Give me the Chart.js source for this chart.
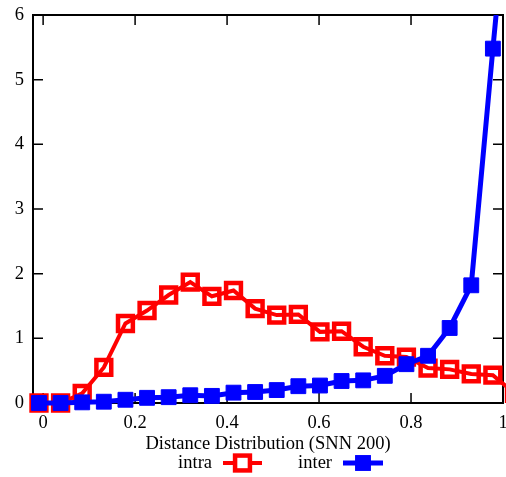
<!DOCTYPE html>
<html>
<head>
<meta charset="utf-8">
<script src="https://cdn.jsdelivr.net/npm/chart.js@4/dist/chart.umd.min.js"></script>
<style>
  html, body { margin: 0; padding: 0; background: #fff; width: 506px; height: 477px; overflow: hidden; }
  canvas { display: block; }
</style>
</head>
<body>
<canvas id="chart" width="530" height="477"></canvas>
<script>
// Bin centres of the distance histogram
const binCenters = [-0.009, 0.038, 0.085, 0.132, 0.179, 0.226, 0.273, 0.320, 0.367, 0.414, 0.461, 0.508,
                    0.555, 0.602, 0.649, 0.696, 0.743, 0.790, 0.837, 0.884, 0.931, 0.978, 1.025];
// Density of intra-cluster distances
const intra = [0.00, 0.00, 0.15, 0.55, 1.23, 1.43, 1.67, 1.87, 1.65, 1.74, 1.46, 1.36,
               1.37, 1.10, 1.11, 0.87, 0.73, 0.71, 0.54, 0.52, 0.45, 0.43, 0.15];
// Density of inter-cluster distances
const inter = [0.00, 0.00, 0.01, 0.02, 0.05, 0.08, 0.09, 0.12, 0.11, 0.16, 0.17, 0.20,
               0.26, 0.27, 0.34, 0.35, 0.42, 0.60, 0.73, 1.16, 1.82, 5.48, 9.00];
const xTicks = [0, 0.2, 0.4, 0.6, 0.8, 1];
const yTicks = [0, 1, 2, 3, 4, 5, 6];
const seriesNames = ['intra', 'inter'];
const axisTitle = 'Distance Distribution (SNN 200)';

const FONT = '"Liberation Serif", "DejaVu Serif", serif';
const FONT_SIZE = 18.5;
const RED = '#ff0000';
const BLUE = '#0000ff';

const toPoints = ys => binCenters.map((x, i) => ({ x, y: ys[i] }));

// Box frame with inward tick marks on all four sides
const framePlugin = {
  id: 'frame',
  beforeDatasetsDraw(chart) {
    const { ctx, chartArea: a, scales: { x, y } } = chart;
    ctx.save();
    ctx.strokeStyle = '#000';
    ctx.lineWidth = 1.5;
    ctx.beginPath();
    xTicks.forEach(v => {
      const px = x.getPixelForValue(v);
      ctx.moveTo(px, a.bottom); ctx.lineTo(px, a.bottom - 10);
      ctx.moveTo(px, a.top); ctx.lineTo(px, a.top + 10);
    });
    yTicks.forEach(v => {
      const py = y.getPixelForValue(v);
      ctx.moveTo(a.left, py); ctx.lineTo(a.left + 10, py);
      ctx.moveTo(a.right, py); ctx.lineTo(a.right - 10, py);
    });
    ctx.stroke();
    ctx.lineWidth = 2;
    ctx.strokeRect(a.left, a.top, a.right - a.left, a.bottom - a.top);
    ctx.restore();
  }
};

// Key below the axis title: label text followed by a line sample with its marker
const keyPlugin = {
  id: 'key',
  afterDraw(chart) {
    const { ctx } = chart;
    const yKey = 463;
    const entries = [
      { label: seriesNames[0], textRight: 212, x0: 223, x1: 262, ds: chart.data.datasets[1] },
      { label: seriesNames[1], textRight: 332, x0: 343, x1: 383, ds: chart.data.datasets[0] }
    ];
    ctx.save();
    ctx.font = FONT_SIZE + 'px ' + FONT;
    ctx.textAlign = 'right';
    ctx.textBaseline = 'middle';
    entries.forEach(e => {
      ctx.fillStyle = '#000';
      ctx.fillText(e.label, e.textRight, yKey);
      ctx.strokeStyle = e.ds.borderColor;
      ctx.lineWidth = e.ds.borderWidth;
      ctx.beginPath();
      ctx.moveTo(e.x0, yKey); ctx.lineTo(e.x1, yKey);
      ctx.stroke();
      const cx = (e.x0 + e.x1) / 2;
      const half = e.ds.pointRadius * Math.SQRT1_2;
      ctx.fillStyle = e.ds.pointBackgroundColor === 'rgba(0,0,0,0)' ? '#fff' : e.ds.pointBackgroundColor;
      ctx.fillRect(cx - half, yKey - half, 2 * half, 2 * half);
      ctx.strokeStyle = e.ds.pointBorderColor;
      ctx.lineWidth = e.ds.pointBorderWidth;
      ctx.strokeRect(cx - half, yKey - half, 2 * half, 2 * half);
    });
    ctx.restore();
  }
};

const clipBox = { left: 14, top: 0, right: 30, bottom: 14 };

new Chart(document.getElementById('chart'), {
  type: 'line',
  data: {
    datasets: [
      {
        label: seriesNames[1],
        data: toPoints(inter),
        borderColor: BLUE,
        borderWidth: 5,
        pointStyle: 'rect',
        pointRadius: 10.5,
        pointBackgroundColor: BLUE,
        pointBorderColor: BLUE,
        pointBorderWidth: 1,
        tension: 0,
        clip: clipBox
      },
      {
        label: seriesNames[0],
        data: toPoints(intra),
        borderColor: RED,
        borderWidth: 4,
        pointStyle: 'rect',
        pointRadius: 10.5,
        pointBackgroundColor: 'rgba(0,0,0,0)',
        pointBorderColor: RED,
        pointBorderWidth: 4.5,
        tension: 0,
        clip: clipBox
      }
    ]
  },
  options: {
    responsive: false,
    animation: false,
    devicePixelRatio: 1,
    layout: { padding: { left: 0, right: 27, top: 14, bottom: 0 } },
    plugins: { legend: { display: false }, tooltip: { enabled: false } },
    scales: {
      x: {
        type: 'linear',
        min: -0.022,
        max: 1.0,
        grid: { display: false, drawTicks: false, tickLength: 0 },
        border: { display: false },
        afterBuildTicks: s => { s.ticks = xTicks.map(v => ({ value: v })); },
        afterFit: s => { s.height = 74; s.paddingLeft = 0; s.paddingRight = 0; },
        ticks: {
          padding: 9,
          color: '#000',
          font: { family: FONT, size: FONT_SIZE },
          maxRotation: 0,
          callback: v => String(v)
        },
        title: {
          display: true,
          text: axisTitle,
          color: '#000',
          font: { family: FONT, size: FONT_SIZE },
          padding: { top: 0, bottom: 22 }
        }
      },
      y: {
        min: 0,
        max: 6,
        grid: { display: false, drawTicks: false, tickLength: 0 },
        border: { display: false },
        afterBuildTicks: s => { s.ticks = yTicks.map(v => ({ value: v })); },
        afterFit: s => { s.width = 33; s.paddingTop = 0; s.paddingBottom = 0; },
        ticks: {
          padding: 9,
          color: '#000',
          font: { family: FONT, size: FONT_SIZE }
        }
      }
    }
  },
  plugins: [framePlugin, keyPlugin]
});
</script>
</body>
</html>
